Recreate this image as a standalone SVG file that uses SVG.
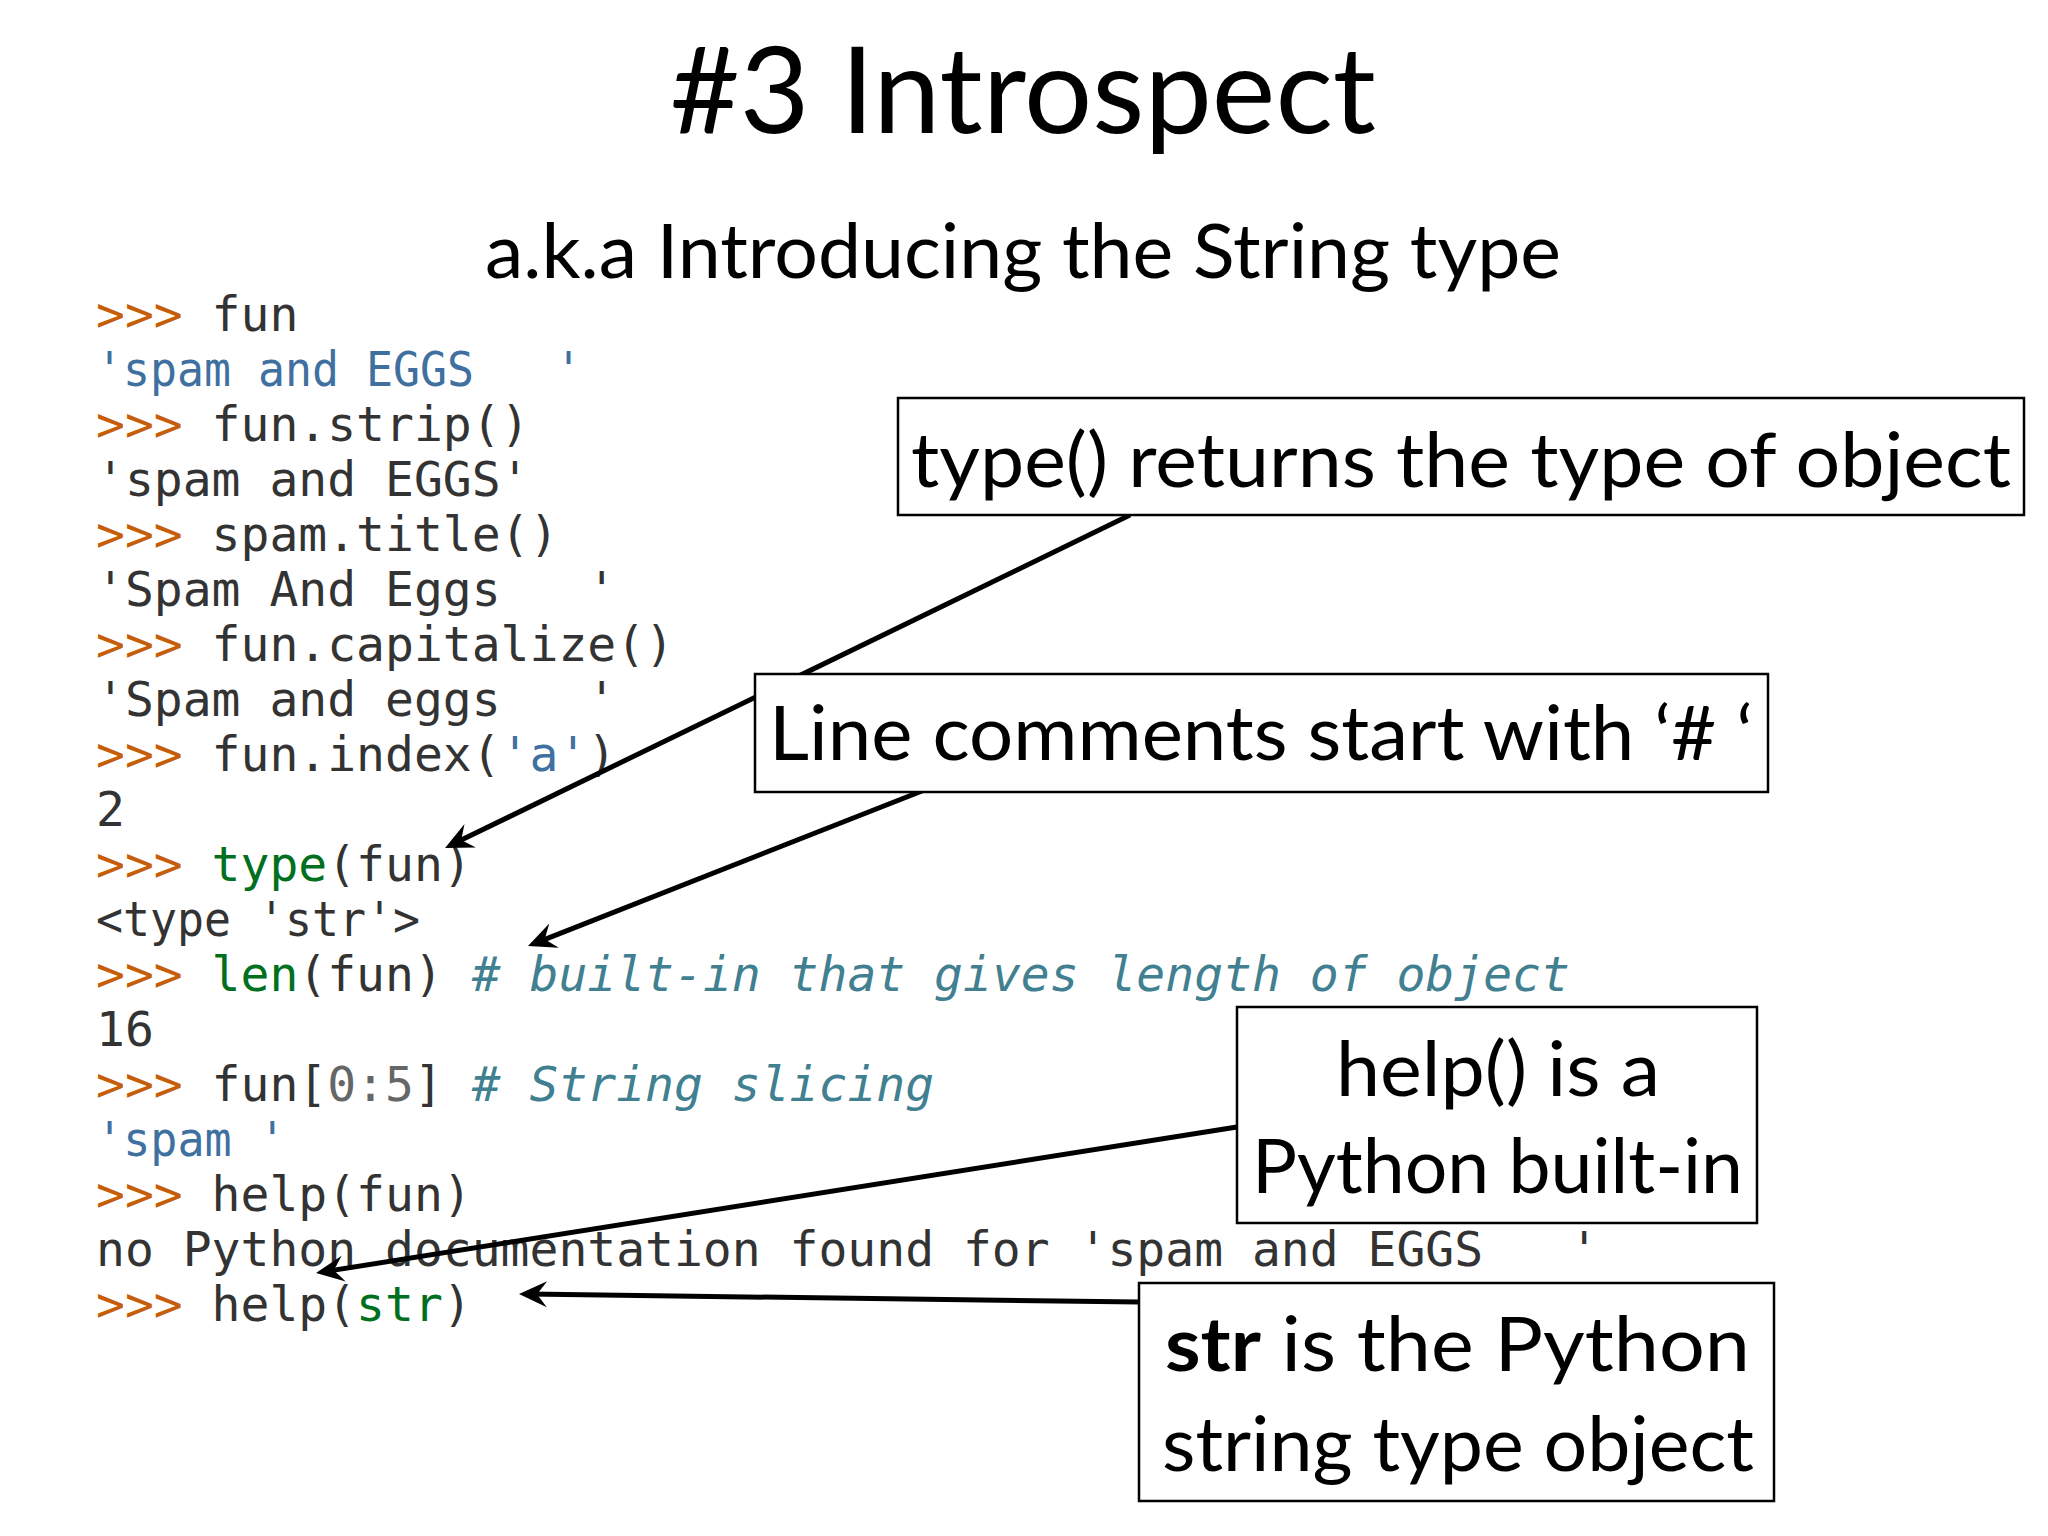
<svg xmlns="http://www.w3.org/2000/svg" width="2048" height="1536" viewBox="0 0 2048 1536">
<style>
.bg{fill:#ffffff}
.title{font-family:Lato,"Open Sans","Liberation Sans",sans-serif;fill:#000}
.code{font-family:"DejaVu Sans Mono","Liberation Mono",monospace;font-size:48px;fill:#333333;white-space:pre}
.p{fill:#c65d09}
.s{fill:#4070a0}
.b{fill:#007020}
.c{fill:#408090;font-style:italic}
.n{fill:#666666}
.box{fill:#ffffff;stroke:#000;stroke-width:2.5}
.lbl{font-family:Lato,"Open Sans","Liberation Sans",sans-serif;font-size:75px;fill:#000}
.conn{stroke:#000;stroke-width:5;fill:none;marker-end:url(#ah)}
</style>
<defs>
<marker id="ah" markerUnits="userSpaceOnUse" viewBox="-32 -16 44 32" refX="-10" refY="0" markerWidth="44" markerHeight="32" orient="auto">
<path d="M0,0 L-28,-13 L-18,0 L-28,13 Z" fill="#000"/>
</marker>
</defs>
<rect class="bg" x="0" y="0" width="2048" height="1536"/>

<g id="title">
<text class="title" x="670" y="133" font-size="120" textLength="706" lengthAdjust="spacingAndGlyphs">#3 Introspect</text>
<text class="title" x="485" y="278" font-size="75" textLength="1076" lengthAdjust="spacingAndGlyphs">a.k.a Introducing the String type</text>
</g>

<g id="code" xml:space="preserve">
<text class="code" x="96" y="331"><tspan class="p">&gt;&gt;&gt;</tspan> fun</text>
<text class="code s" x="96" y="386" textLength="486" lengthAdjust="spacingAndGlyphs">'spam and EGGS   '</text>
<text class="code" x="96" y="441"><tspan class="p">&gt;&gt;&gt;</tspan> fun.strip()</text>
<text class="code" x="96" y="496">'spam and EGGS'</text>
<text class="code" x="96" y="551"><tspan class="p">&gt;&gt;&gt;</tspan> spam.title()</text>
<text class="code" x="96" y="606">'Spam And Eggs   '</text>
<text class="code" x="96" y="661"><tspan class="p">&gt;&gt;&gt;</tspan> fun.capitalize()</text>
<text class="code" x="96" y="716">'Spam and eggs   '</text>
<text class="code" x="96" y="771"><tspan class="p">&gt;&gt;&gt;</tspan> fun.index(<tspan class="s">'a'</tspan>)</text>
<text class="code" x="96" y="826">2</text>
<text class="code" x="96" y="881"><tspan class="p">&gt;&gt;&gt;</tspan> <tspan class="b">type</tspan>(fun)</text>
<text class="code" x="96" y="936" textLength="324" lengthAdjust="spacingAndGlyphs">&lt;type 'str'&gt;</text>
<text class="code" x="96" y="991"><tspan class="p">&gt;&gt;&gt;</tspan> <tspan class="b">len</tspan>(fun) <tspan class="c"># built-in that gives length of object</tspan></text>
<text class="code" x="96" y="1046">16</text>
<text class="code" x="96" y="1101"><tspan class="p">&gt;&gt;&gt;</tspan> fun[<tspan class="n">0:5</tspan>] <tspan class="c"># String slicing</tspan></text>
<text class="code s" x="96" y="1156" textLength="190" lengthAdjust="spacingAndGlyphs">'spam '</text>
<text class="code" x="96" y="1211"><tspan class="p">&gt;&gt;&gt;</tspan> help(fun)</text>
<text class="code" x="96" y="1266">no Python documentation found for 'spam and EGGS   '</text>
<text class="code" x="96" y="1321"><tspan class="p">&gt;&gt;&gt;</tspan> help(<tspan class="b">str</tspan>)</text>
</g>

<g id="connectors">
<line class="conn" x1="1130" y1="515" x2="454" y2="843.6"/>
<line class="conn" x1="922" y1="791" x2="537.3" y2="942.3"/>
<line class="conn" x1="1237" y1="1127" x2="325.9" y2="1271.4"/>
<line class="conn" x1="1139" y1="1302" x2="529" y2="1294.1"/>
</g>

<g id="note-type">
<rect class="box" x="898" y="398" width="1126" height="117"/>
<text class="lbl" x="911" y="487" textLength="1100" lengthAdjust="spacingAndGlyphs">type() returns the type of object</text>
</g>

<g id="note-comments">
<rect class="box" x="755" y="674" width="1013" height="118"/>
<text class="lbl" x="769" y="760" textLength="984" lengthAdjust="spacingAndGlyphs">Line comments start with ‘# ‘</text>
</g>

<g id="note-help">
<rect class="box" x="1237" y="1007" width="520" height="216"/>
<text class="lbl" x="1336" y="1096" textLength="324" lengthAdjust="spacingAndGlyphs">help() is a</text>
<text class="lbl" x="1252" y="1193" textLength="491" lengthAdjust="spacingAndGlyphs">Python built-in</text>
</g>

<g id="note-str">
<rect class="box" x="1139" y="1283" width="635" height="218"/>
<text class="lbl" x="1165" y="1371" textLength="585" lengthAdjust="spacingAndGlyphs"><tspan font-weight="bold">str</tspan> is the Python</text>
<text class="lbl" x="1162" y="1471" textLength="592" lengthAdjust="spacingAndGlyphs">string type object</text>
</g>
</svg>
